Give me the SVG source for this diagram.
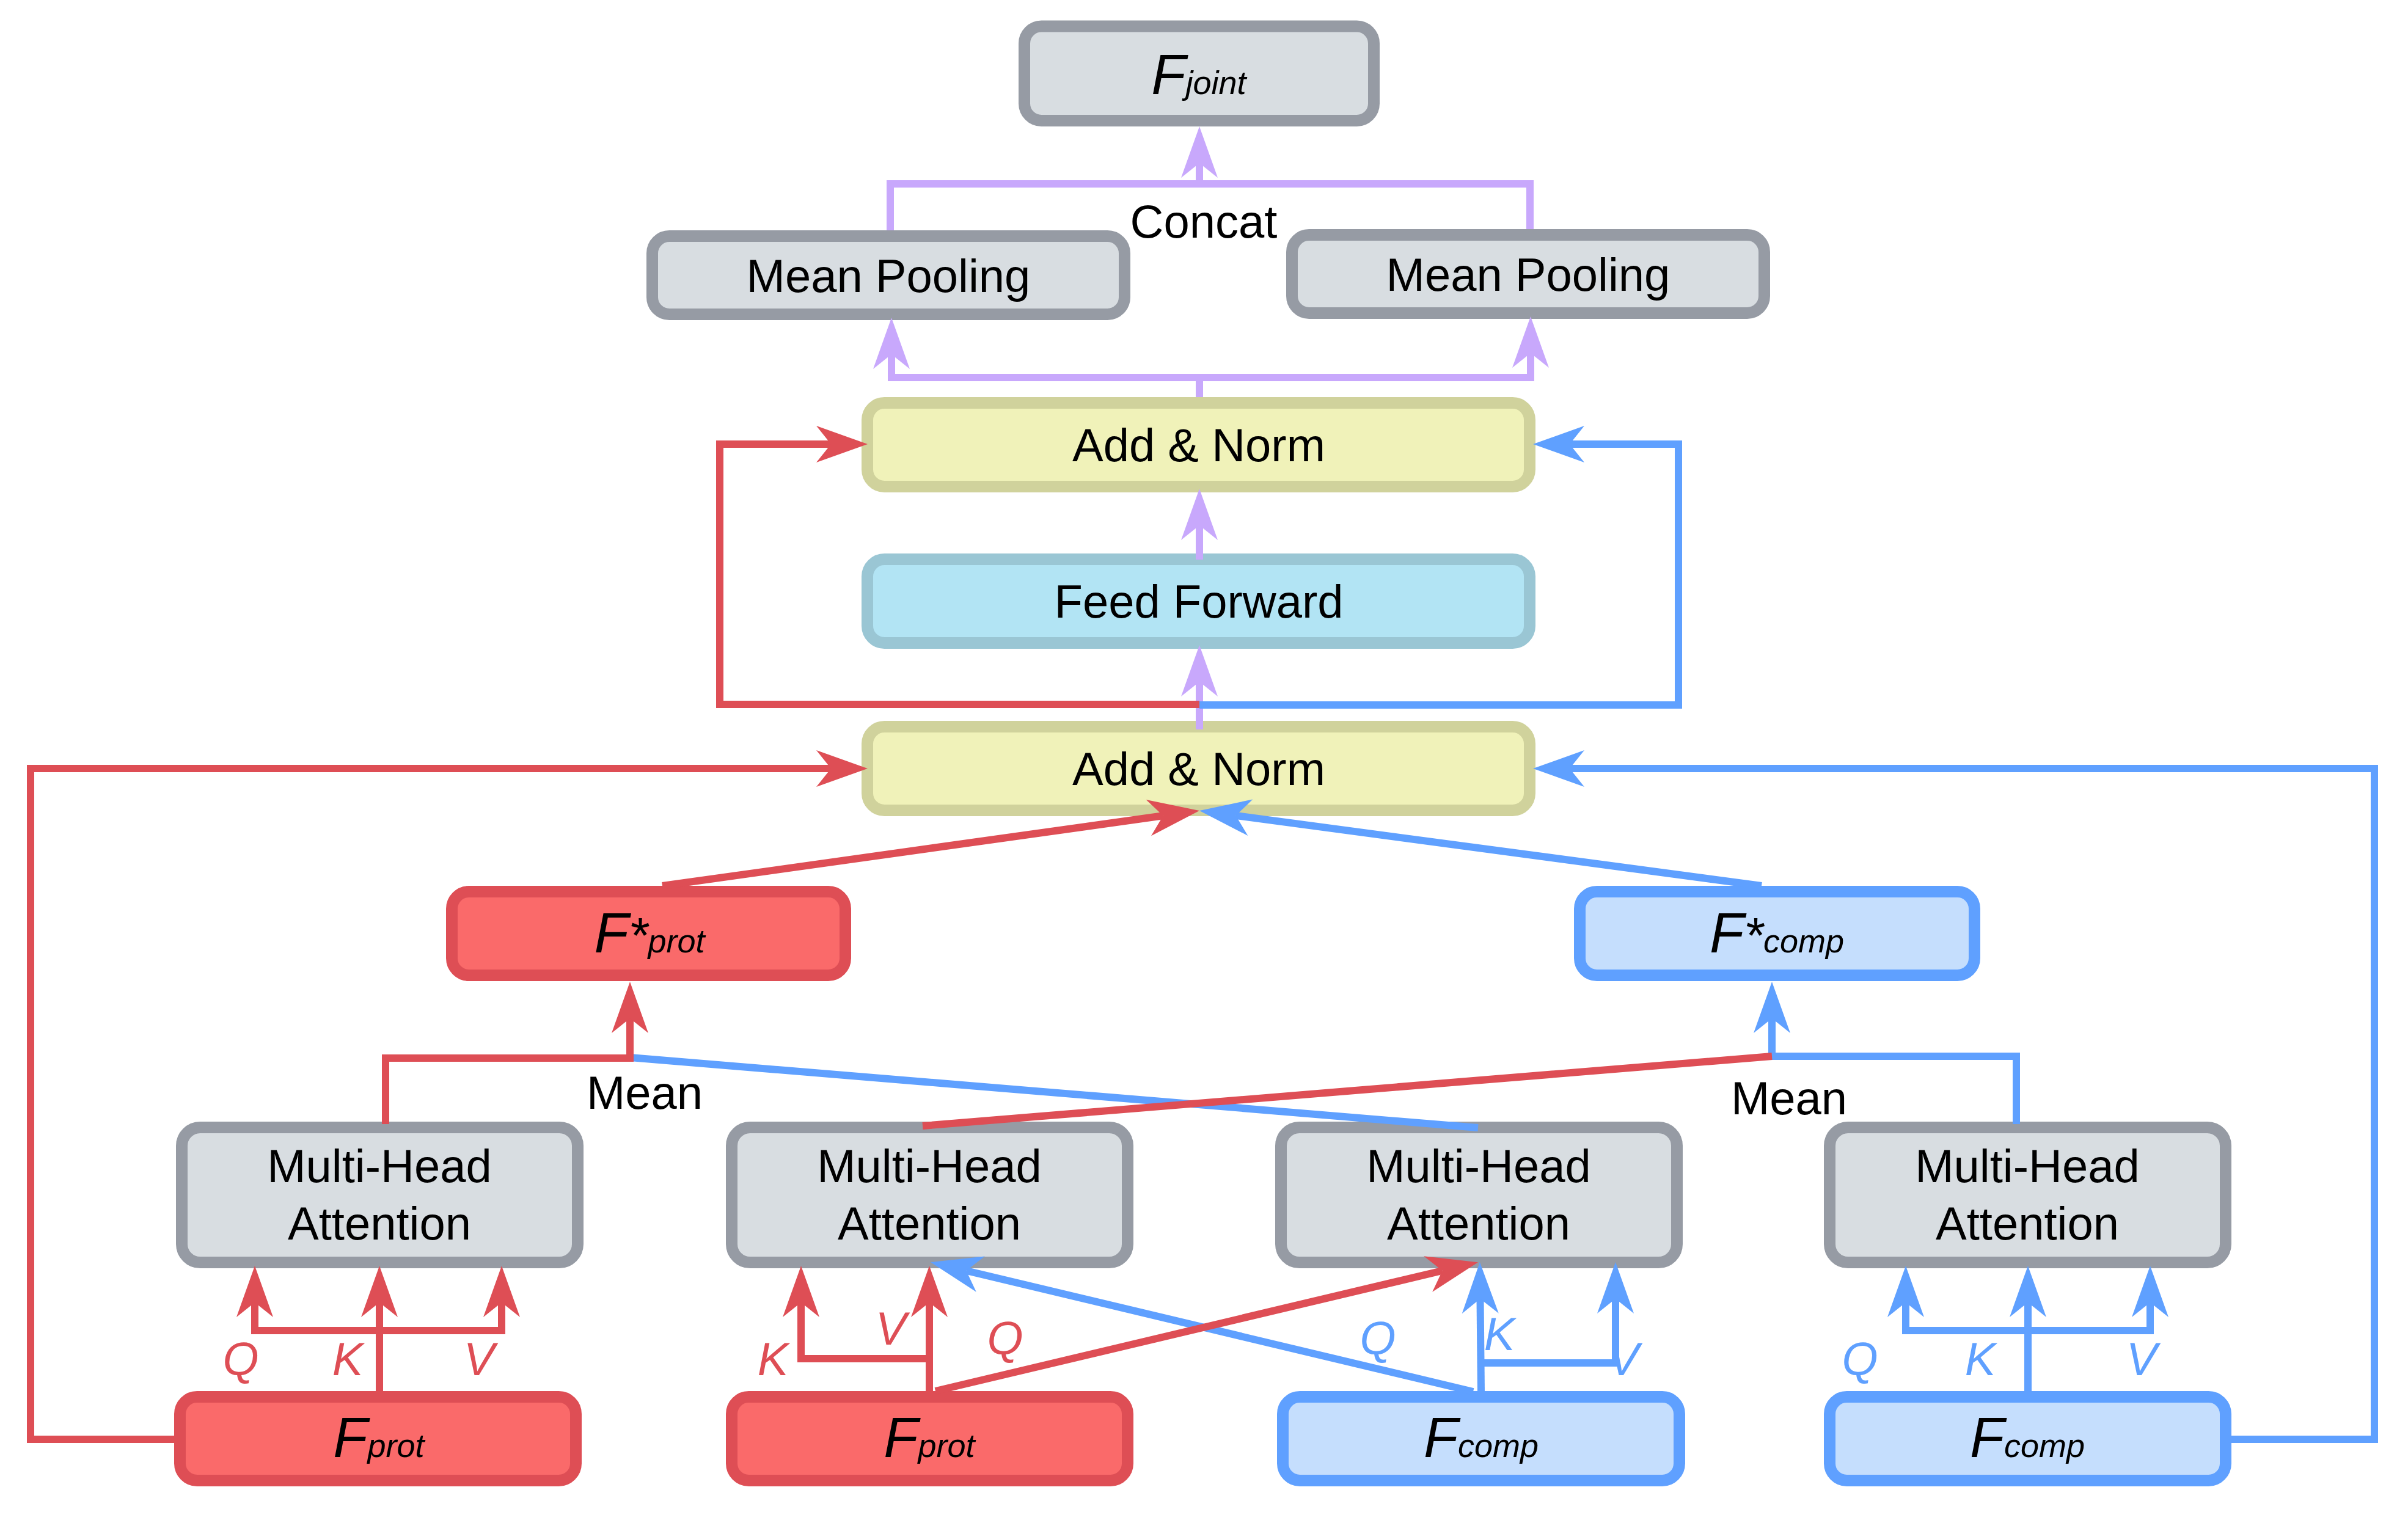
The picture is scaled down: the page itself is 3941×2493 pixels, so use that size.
<svg xmlns="http://www.w3.org/2000/svg" width="3941" height="2493" viewBox="0 0 3941 2493">
<style>
text{font-family:"Liberation Sans",Arial,sans-serif;fill:#000}
.lbl{font-size:76px;text-anchor:middle}
.it{font-style:italic}
.n rect{stroke-width:19}
.gray{fill:#D8DDE1;stroke:#969BA4}
.yel{fill:#F0F2B9;stroke:#D0D29C}
.cyan{fill:#B2E4F4;stroke:#9AC6D4}
.red{fill:#FA6A6A;stroke:#DE4E55}
.blue{fill:#C5DEFD;stroke:#5FA0FF}
.c path{fill:none;stroke-width:12;stroke-linejoin:miter;stroke-linecap:butt}
.pu{stroke:#C8A8FC}
.rd{stroke:#DE4E55}
.bl{stroke:#5FA0FF}
.qr{fill:#DE4E55}
.qb{fill:#5FA0FF}
</style>
<defs>
<marker id="ap" markerUnits="userSpaceOnUse" orient="auto" markerWidth="100" markerHeight="100" refX="0" refY="0" overflow="visible"><path d="M60,0 L-24,-30 L0,0 L-24,30 Z" fill="#C8A8FC"/></marker>
<marker id="ar" markerUnits="userSpaceOnUse" orient="auto" markerWidth="100" markerHeight="100" refX="0" refY="0" overflow="visible"><path d="M60,0 L-24,-30 L0,0 L-24,30 Z" fill="#DE4E55"/></marker>
<marker id="ab" markerUnits="userSpaceOnUse" orient="auto" markerWidth="100" markerHeight="100" refX="0" refY="0" overflow="visible"><path d="M60,0 L-24,-30 L0,0 L-24,30 Z" fill="#5FA0FF"/></marker>
</defs>
<rect width="3941" height="2493" fill="#fff"/>

<g class="n">
<g id="fjoint"><rect class="gray" x="1676.5" y="43" width="572" height="154.5" rx="28"/><text class="lbl it" x="1962" y="154"><tspan font-size="92">F</tspan><tspan font-size="54">joint</tspan></text></g>
<g id="mp_left"><rect class="gray" x="1067.5" y="386.5" width="773" height="128" rx="28"/><text class="lbl" x="1454" y="478">Mean Pooling</text></g>
<g id="mp_right"><rect class="gray" x="2114.5" y="384.5" width="773" height="128" rx="28"/><text class="lbl" x="2501" y="476">Mean Pooling</text></g>
<g id="addnorm_top"><rect class="yel" x="1419.5" y="659.5" width="1084" height="137" rx="28"/><text class="lbl" x="1962" y="755">Add &amp; Norm</text></g>
<g id="ff"><rect class="cyan" x="1419.5" y="915.5" width="1084" height="137" rx="28"/><text class="lbl" x="1962" y="1011">Feed Forward</text></g>
<g id="addnorm_bot"><rect class="yel" x="1419.5" y="1189.5" width="1084" height="137" rx="28"/><text class="lbl" x="1962" y="1285">Add &amp; Norm</text></g>
<g id="fstar_prot"><rect class="red" x="739.5" y="1459.5" width="644" height="137" rx="28"/><text class="lbl it" x="1063" y="1559"><tspan font-size="92">F</tspan><tspan font-size="82">*</tspan><tspan font-size="54">prot</tspan></text></g>
<g id="fstar_comp"><rect class="blue" x="2585.5" y="1459.5" width="646" height="137" rx="28"/><text class="lbl it" x="2908" y="1559"><tspan font-size="92">F</tspan><tspan font-size="82">*</tspan><tspan font-size="54">comp</tspan></text></g>
<g id="mha1"><rect class="gray" x="297.5" y="1845.5" width="648" height="221" rx="30"/><text class="lbl" x="621" y="1935">Multi-Head</text><text class="lbl" x="621" y="2029">Attention</text></g>
<g id="mha2"><rect class="gray" x="1197.5" y="1845.5" width="648" height="221" rx="30"/><text class="lbl" x="1521" y="1935">Multi-Head</text><text class="lbl" x="1521" y="2029">Attention</text></g>
<g id="mha3"><rect class="gray" x="2096.5" y="1845.5" width="648" height="221" rx="30"/><text class="lbl" x="2420" y="1935">Multi-Head</text><text class="lbl" x="2420" y="2029">Attention</text></g>
<g id="mha4"><rect class="gray" x="2994.5" y="1845.5" width="648" height="221" rx="30"/><text class="lbl" x="3318" y="1935">Multi-Head</text><text class="lbl" x="3318" y="2029">Attention</text></g>
<g id="fprot1"><rect class="red" x="294.5" y="2286.5" width="648" height="137" rx="28"/><text class="lbl it" x="620" y="2385"><tspan font-size="92">F</tspan><tspan font-size="54">prot</tspan></text></g>
<g id="fprot2"><rect class="red" x="1197.5" y="2286.5" width="648" height="137" rx="28"/><text class="lbl it" x="1521" y="2385"><tspan font-size="92">F</tspan><tspan font-size="54">prot</tspan></text></g>
<g id="fcomp3"><rect class="blue" x="2099.5" y="2286.5" width="649" height="137" rx="28"/><text class="lbl it" x="2424" y="2385"><tspan font-size="92">F</tspan><tspan font-size="54">comp</tspan></text></g>
<g id="fcomp4"><rect class="blue" x="2994.5" y="2286.5" width="648" height="137" rx="28"/><text class="lbl it" x="3318" y="2385"><tspan font-size="92">F</tspan><tspan font-size="54">comp</tspan></text></g>
</g>

<g id="connectors" class="c">
<path class="pu" d="M1457,377 V301 H2504 V375"/>
<path class="pu" d="M1963,301 V267" marker-end="url(#ap)"/>
<path class="pu" d="M1963,650 V618 H1459 V580" marker-end="url(#ap)"/>
<path class="pu" d="M1963,618 H2505 V578" marker-end="url(#ap)"/>
<path class="pu" d="M1963,916 V860" marker-end="url(#ap)"/>
<path class="pu" d="M1963,1194 V1116" marker-end="url(#ap)"/>
<path class="bl" d="M1963,1154 H2747 V727 H2569" marker-end="url(#ab)"/>
<path class="bl" d="M3652,2356 H3886 V1258 H2569" marker-end="url(#ab)"/>
<path class="bl" d="M2883,1450 L2022.5,1335" marker-end="url(#ab)"/>
<path class="bl" d="M2419,1846 L1031,1731"/>
<path class="bl" d="M3300,1840 V1729 H2900"/>
<path class="bl" d="M2900,1729 V1667" marker-end="url(#ab)"/>
<path class="bl" d="M2424,2280 L2422.5,2126" marker-end="url(#ab)"/>
<path class="bl" d="M2422,2231 H2644 V2126" marker-end="url(#ab)"/>
<path class="bl" d="M2411,2278 L1581.4,2080" marker-end="url(#ab)"/>
<path class="bl" d="M3319,2280 V2132" marker-end="url(#ab)"/>
<path class="bl" d="M3119,2178 V2132" marker-end="url(#ab)"/>
<path class="bl" d="M3519,2178 V2132" marker-end="url(#ab)"/>
<path class="bl" d="M3113,2178 H3525"/>
<path class="rd" d="M285,2356 H50 V1258 H1360" marker-end="url(#ar)"/>
<path class="rd" d="M1963,1153 H1178 V727 H1360" marker-end="url(#ar)"/>
<path class="rd" d="M1084,1450 L1903.6,1335.3" marker-end="url(#ar)"/>
<path class="rd" d="M631,1840 V1732 H1031 V1667" marker-end="url(#ar)"/>
<path class="rd" d="M1510,1843 L2900,1729"/>
<path class="rd" d="M621,2280 V2132" marker-end="url(#ar)"/>
<path class="rd" d="M417,2178 V2132" marker-end="url(#ar)"/>
<path class="rd" d="M821,2178 V2132" marker-end="url(#ar)"/>
<path class="rd" d="M411,2178 H827"/>
<path class="rd" d="M1521,2280 V2132" marker-end="url(#ar)"/>
<path class="rd" d="M1527,2224 H1311 V2132" marker-end="url(#ar)"/>
<path class="rd" d="M1531,2277 L2360.6,2080" marker-end="url(#ar)"/>
</g>

<g id="labels">
<text class="lbl" x="1970" y="389">Concat</text>
<text class="lbl" x="1055" y="1815">Mean</text>
<text class="lbl" x="2928" y="1824">Mean</text>
<text class="lbl it qr" x="394" y="2251">Q</text>
<text class="lbl it qr" x="569" y="2251">K</text>
<text class="lbl it qr" x="784" y="2251">V</text>
<text class="lbl it qr" x="1265" y="2251">K</text>
<text class="lbl it qr" x="1458" y="2201">V</text>
<text class="lbl it qr" x="1645" y="2217">Q</text>
<text class="lbl it qb" x="2255" y="2217">Q</text>
<text class="lbl it qb" x="2454" y="2210">K</text>
<text class="lbl it qb" x="2657" y="2251">V</text>
<text class="lbl it qb" x="3044" y="2251">Q</text>
<text class="lbl it qb" x="3241" y="2251">K</text>
<text class="lbl it qb" x="3505" y="2251">V</text>
</g>
</svg>
